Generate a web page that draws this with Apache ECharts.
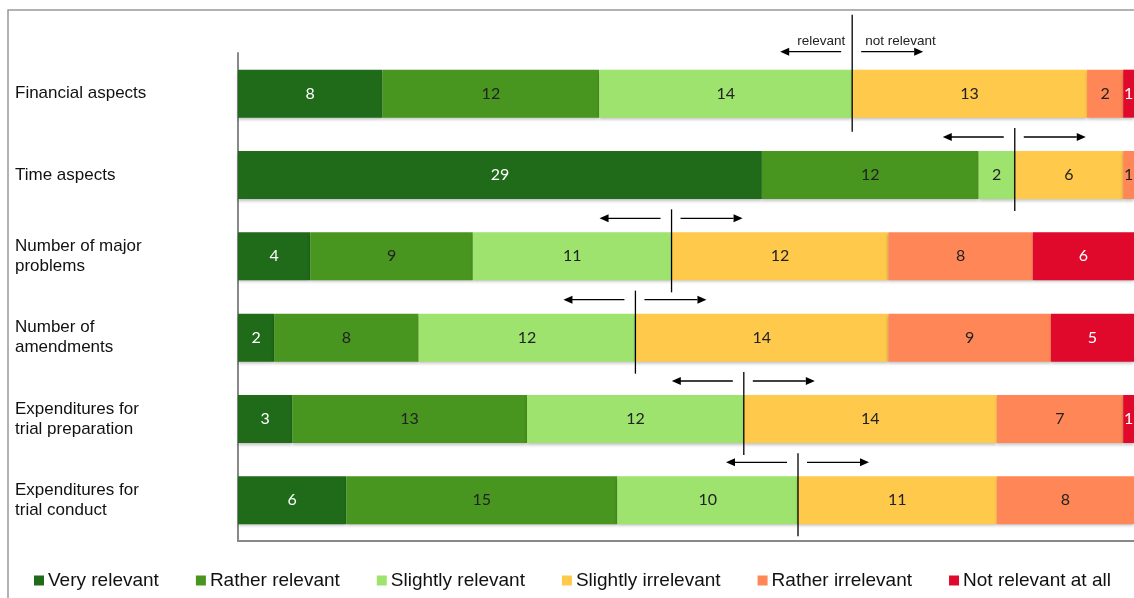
<!DOCTYPE html>
<html>
<head>
<meta charset="utf-8">
<script src="https://cdn.jsdelivr.net/npm/echarts@6/dist/echarts.min.js"></script>
<style>html,body{margin:0;padding:0;background:#fff;}#c{width:1134px;height:598px;}</style>
</head>
<body>
<div id="c"></div>
<script>
const categories = ['Financial aspects','Time aspects','Number of major\nproblems','Number of\namendments','Expenditures for\ntrial preparation','Expenditures for\ntrial conduct'];
const seriesNames = ['Very relevant','Rather relevant','Slightly relevant','Slightly irrelevant','Rather irrelevant','Not relevant at all'];
const veryRelevant = [8,29,4,2,3,6];
const ratherRelevant = [12,12,9,8,13,15];
const slightlyRelevant = [14,2,11,12,12,10];
const slightlyIrrelevant = [13,6,12,14,14,11];
const ratherIrrelevant = [2,1,8,9,7,8];
const notRelevantAtAll = [1,0,6,5,1,0];

const seriesValues = [veryRelevant, ratherRelevant, slightlyRelevant, slightlyIrrelevant, ratherIrrelevant, notRelevantAtAll];
const colors = ['#1f6b1a','#48951f','#9de36d','#ffc94c','#ff8757','#e0092b'];
const labelColors = ['#fff','#222','#222','#222','#222','#fff'];

const relevantSplit = categories.map((c,i)=>[veryRelevant[i]+ratherRelevant[i]+slightlyRelevant[i], i]);

const chart = echarts.init(document.getElementById('c'));
const barSeries = seriesNames.map((name,k)=>({
  name: name,
  type: 'bar',
  stack: 'total',
  barWidth: 48,
  data: seriesValues[k],
  itemStyle: {color: colors[k], shadowColor: 'rgba(0,0,0,0.25)', shadowOffsetY: 2, shadowBlur: 3},
  label: {
    show: true, position: 'inside', color: labelColors[k],
    fontFamily: 'Lato', fontSize: 16,
    formatter: p => p.value ? String(p.value) : ''
  },
  emphasis: {disabled: true}
}));

const splitSeries = {
  type: 'custom',
  name: 'split',
  z: 10,
  silent: true,
  data: relevantSplit,
  encode: {x: 0, y: 1},
  renderItem: function(params, api){
    const p = api.coord([api.value(0), api.value(1)]);
    const x = p[0], cy = p[1];
    const first = params.dataIndex === 0;
    const top = first ? cy - 79 : cy - 47;
    const bottom = first ? cy + 38 : cy + 36;
    const ay = first ? cy - 42 : cy - 38;
    const st = {stroke: '#000', lineWidth: 1.3};
    const children = [
      {type:'line', shape:{x1:x, y1:top, x2:x, y2:bottom}, style:st},
      {type:'line', shape:{x1:x-11, y1:ay, x2:x-64, y2:ay}, style:st},
      {type:'polygon', shape:{points:[[x-72,ay],[x-63,ay-4],[x-63,ay+4]]}, style:{fill:'#000'}},
      {type:'line', shape:{x1:x+9, y1:ay, x2:x+62, y2:ay}, style:st},
      {type:'polygon', shape:{points:[[x+71,ay],[x+62,ay-4],[x+62,ay+4]]}, style:{fill:'#000'}}
    ];
    if (first) {
      children.push({type:'text', style:{text:'relevant', x:x-7, y:ay-10, align:'right', verticalAlign:'middle', fontFamily:'Liberation Sans, Arial', fontSize:13.5, fill:'#222'}});
      children.push({type:'text', style:{text:'not relevant', x:x+13, y:ay-10, align:'left', verticalAlign:'middle', fontFamily:'Liberation Sans, Arial', fontSize:13.5, fill:'#222'}});
    }
    return {type:'group', children: children};
  }
};

chart.setOption({
  animation: false,
  backgroundColor: '#fff',
  textStyle: {fontFamily: 'Liberation Sans, Arial'},
  grid: {left: 238, right: 0, top: 53, bottom: 57, containLabel: false},
  legend: {
    data: seriesNames,
    left: 29, top: 566,
    icon: 'rect', itemWidth: 10, itemHeight: 10, itemGap: 37,
    textStyle: {fontSize: 19, color: '#111', fontFamily: 'Liberation Sans, Arial', padding: [0,0,0,-1]},
    selectedMode: false
  },
  xAxis: {
    type: 'value', min: 0, max: 49.6,
    axisLine: {show: true, lineStyle: {color: '#888', width: 2}},
    axisTick: {show: false}, axisLabel: {show: false}, splitLine: {show: false}
  },
  yAxis: {
    type: 'category', data: categories, inverse: true,
    axisLine: {show: true, lineStyle: {color: '#888', width: 2}},
    axisTick: {show: false},
    axisLabel: {align: 'left', margin: 223, fontSize: 17, color: '#111', lineHeight: 20, fontFamily: 'Liberation Sans, Arial'}
  },
  graphic: [
    {type:'polyline', shape:{points:[[8,598],[8,10],[1134,10]]}, style:{stroke:'#999', lineWidth:1.5, fill:null}, silent:true}
  ],
  series: barSeries.concat([splitSeries])
});
</script>
</body>
</html>
